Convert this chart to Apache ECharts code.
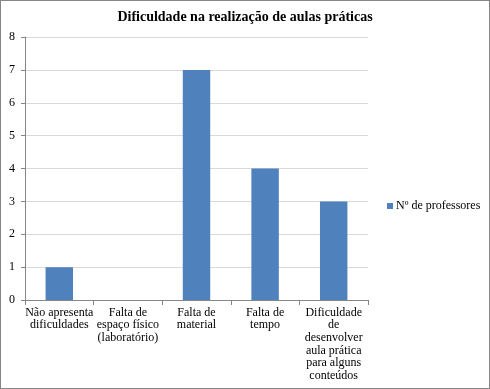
<!DOCTYPE html>
<html><head><meta charset="utf-8">
<script src="https://cdn.jsdelivr.net/npm/echarts@6/dist/echarts.min.js"></script>
<style>html,body{margin:0;padding:0;background:#fff}#c{width:490px;height:389px;box-sizing:border-box;border:1px solid #868686}</style>
</head><body><div id="c"></div>
<script>
var categories = ["Não apresenta\ndificuldades", "Falta de\nespaço físico\n(laboratório)", "Falta de\nmaterial", "Falta de\ntempo", "Dificuldade\nde\ndesenvolver\naula prática\npara alguns\nconteúdos"];
var values = [1, 0, 7, 4, 3];
var seriesName = "Nº de professores";
var titleText = "Dificuldade na realização de aulas práticas";

var chart = echarts.init(document.getElementById('c'), null, {renderer: 'canvas'});
var font = '"Liberation Serif", "Times New Roman", serif';
chart.setOption({
  animation: false,
  title: {text: titleText, left: 'center', top: 4, textStyle: {fontFamily: font, fontSize: 14, fontWeight: 'bold', color: '#000'}},
  legend: {data: [seriesName], left: 381, top: 194, itemWidth: 6, itemHeight: 6, itemGap: 3, icon: 'rect', textStyle: {fontFamily: font, fontSize: 12, color: '#000', padding: [0,0,0,-2]}},
  grid: {left: 24, right: 121, top: 36, bottom: 88, containLabel: false},
  xAxis: {
    type: 'category', data: categories,
    axisLine: {lineStyle: {color: '#868686'}},
    axisTick: {show: true, alignWithLabel: false, length: 5, lineStyle: {color: '#868686'}},
    axisLabel: {interval: 0, fontFamily: font, fontSize: 12, color: '#000', lineHeight: 12.7, margin: 6}
  },
  yAxis: {
    type: 'value', min: 0, max: 8, interval: 1,
    axisLine: {show: true, lineStyle: {color: '#868686'}},
    axisTick: {show: true, length: 4, lineStyle: {color: '#868686'}},
    splitLine: {lineStyle: {color: '#d9d9d9'}},
    axisLabel: {fontFamily: font, fontSize: 12, color: '#000', margin: 10}
  },
  series: [{name: seriesName, type: 'bar', data: values, barWidth: '40%', itemStyle: {color: '#4f81bd'}}]
});
</script></body></html>
